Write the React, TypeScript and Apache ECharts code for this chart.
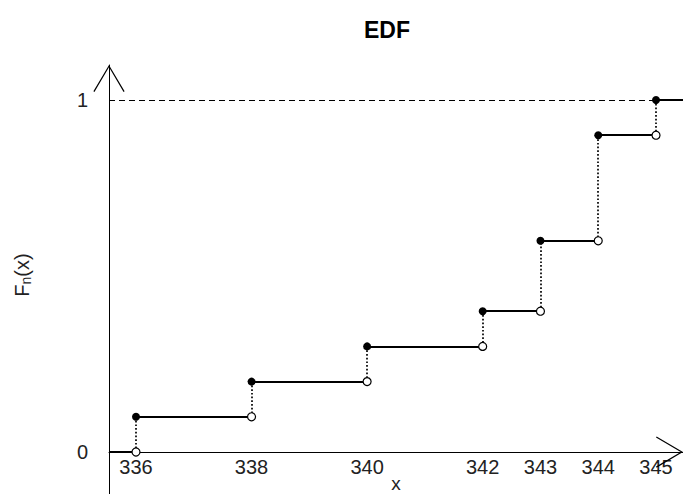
import React, { useEffect, useRef } from "react";
import * as echarts from "echarts";

// Data
const xs = [336, 338, 340, 342, 343, 344, 345];
const Fn = [0.1, 0.2, 0.3, 0.4, 0.6, 0.9, 1.0];
const xTicks = [336, 338, 340, 342, 343, 344, 345];
const yTicks = [0, 1];

// axis extents
const X_MIN = 335.533;
const X_MAX = 345.467;
const Y_MIN = -0.1193;
const Y_MAX = 1.0994;

const ARROW = "path://M16 0 L32 27 L30.9 27.65 L16 2.4 L1.1 27.65 L0 27 Z";
const FONT = "'Liberation Sans', Arial, sans-serif";

// distance (px) between the grid's bottom edge and the x axis line at y = 0
const BELOW_ZERO = 42;

export default function App() {
  const ref = useRef<HTMLDivElement>(null);
  useEffect(() => {
    if (!ref.current) return;
    const chart = echarts.init(ref.current, null, { renderer: "svg" });
    const n = xs.length;
    const prev = [0, ...Fn.slice(0, n - 1)];
    const horizontals = [
      { coords: [[X_MIN, 0], [xs[0], 0]] },
      ...xs.map((x, i) => ({
        coords: [[x, Fn[i]], [i < n - 1 ? xs[i + 1] : X_MAX, Fn[i]]],
      })),
    ];
    const verticals = xs.map((x, i) => ({ coords: [[x, prev[i]], [x, Fn[i]]] }));
    const dashed = [{ coords: [[X_MIN, 1], [xs[n - 1], 1]] }];

    chart.setOption({
      animation: false,
      backgroundColor: "#fff",
      title: {
        text: "EDF",
        left: 382,
        top: 13,
        textAlign: "center",
        textStyle: { fontFamily: FONT, fontSize: 23, fontWeight: "bold", color: "#000" },
      },
      grid: {
        left: 109,
        right: 0,
        top: 65,
        bottom: 0,
        containLabel: false,
        outerBoundsMode: "none",
      },
      xAxis: {
        type: "value",
        min: X_MIN,
        max: X_MAX,
        name: "x",
        nameLocation: "middle",
        nameGap: -16.5,
        nameMoveOverlap: false,
        nameTextStyle: { fontFamily: FONT, fontSize: 19, lineHeight: 12, color: "#222" },
        axisLine: {
          show: true,
          onZero: true,
          symbol: ["none", ARROW],
          symbolSize: [32, 27],
          symbolOffset: [0, -13.5],
          lineStyle: { color: "#000", width: 1 },
        },
        axisTick: { show: false },
        splitLine: { show: false },
        axisLabel: {
          customValues: xTicks,
          margin: 5 - BELOW_ZERO,
          fontFamily: FONT,
          fontSize: 20,
          color: "#222",
        },
      },
      yAxis: {
        type: "value",
        min: Y_MIN,
        max: Y_MAX,
        name: "{a|F}{b|n}{a|(x)}",
        nameLocation: "middle",
        nameRotate: 90,
        nameGap: 76,
        nameMoveOverlap: false,
        nameTextStyle: {
          fontFamily: FONT,
          color: "#222",
          padding: [0, 0, 0, 9],
          rich: {
            a: { fontFamily: FONT, fontSize: 20, color: "#222" },
            b: { fontFamily: FONT, fontSize: 14, color: "#222", padding: [8, 0, 0, 0] },
          },
        },
        axisLine: {
          show: true,
          symbol: ["none", ARROW],
          symbolSize: [32, 27],
          symbolOffset: [0, -13.5],
          lineStyle: { color: "#000", width: 1 },
        },
        axisTick: { show: false },
        splitLine: { show: false },
        axisLabel: {
          customValues: yTicks,
          margin: 21,
          fontFamily: FONT,
          fontSize: 20,
          color: "#222",
        },
      },
      series: [
        {
          type: "lines",
          coordinateSystem: "cartesian2d",
          data: dashed,
          lineStyle: { color: "#000", width: 1, type: [6, 4], opacity: 1 },
          z: 2,
        },
        {
          type: "lines",
          coordinateSystem: "cartesian2d",
          data: verticals,
          lineStyle: { color: "#000", width: 1.7, type: [1.7, 2], opacity: 1 },
          z: 2,
        },
        {
          type: "lines",
          coordinateSystem: "cartesian2d",
          data: horizontals,
          lineStyle: { color: "#000", width: 2, type: "solid", opacity: 1 },
          z: 3,
        },
        {
          type: "scatter",
          data: xs.map((x, i) => [x, prev[i]]),
          symbol: "circle",
          symbolSize: 8,
          itemStyle: { color: "#fff", borderColor: "#000", borderWidth: 1.2, opacity: 1 },
          z: 4,
        },
        {
          type: "scatter",
          data: xs.map((x, i) => [x, Fn[i]]),
          symbol: "circle",
          symbolSize: 8,
          itemStyle: { color: "#000", opacity: 1 },
          z: 5,
        },
      ],
    });
    return () => chart.dispose();
  }, []);
  return (
    <div
      ref={ref}
      style={{ position: "fixed", left: 0, top: 0, width: 683, height: 494 }}
    />
  );
}
